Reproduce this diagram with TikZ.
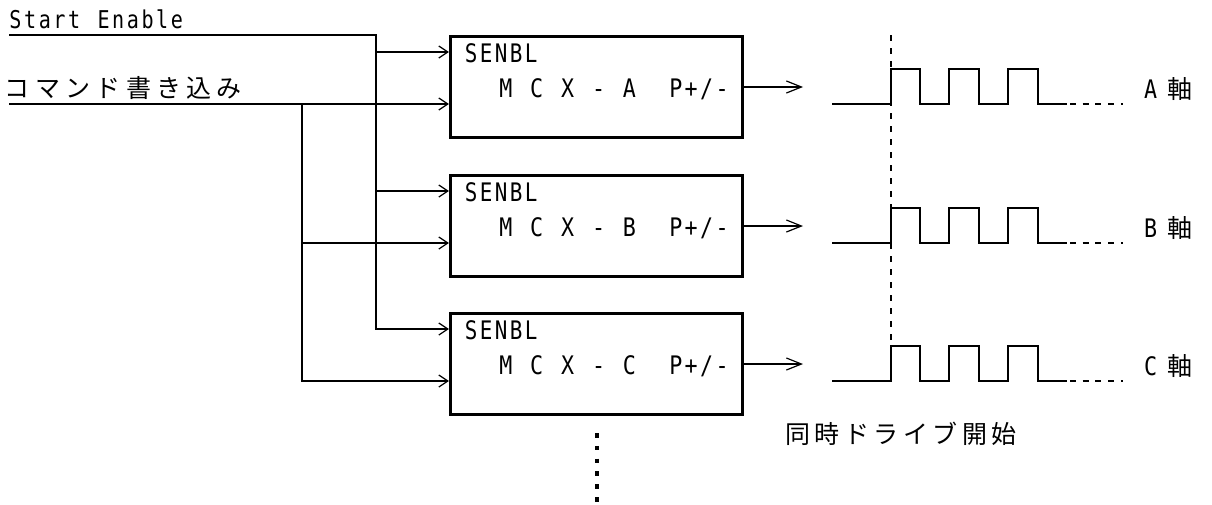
\documentclass[tikz,border=0pt]{standalone}
\usepackage{fontspec}
\usepackage{graphicx}
\usetikzlibrary{arrows.meta,calc}
\newfontfamily\jpfont{Noto Sans CJK JP}
\newfontfamily\latinfont{DejaVu Sans Mono}
% set a string in fixed-width cells, one glyph centred (and optionally narrowed) per cell
\newlength\cellw
\def\cellsx{1}
\newcommand\cellrow[3][1]{\setlength\cellw{#2}\def\cellsx{#1}\cellrowstep#3\relax}
\def\cellrowstep#1{\ifx\relax#1\else\makebox[\cellw][c]{\scalebox{\cellsx}[1]{#1}}\expandafter\cellrowstep\fi}
\begin{document}
\begin{tikzpicture}[x=1pt,y=-1pt,
  wire/.style={line width=1.2pt},
  inarrow/.style={wire,-{Straight Barb[length=9pt,width=12pt,line width=1.2pt]}},
  outarrow/.style={wire,-{Straight Barb[length=15pt,width=12pt,line width=1.2pt]}},
  unit/.style={draw,line width=3.2pt,minimum width=292pt,minimum height=101pt,inner sep=0pt},
  wave/.style={line width=2.8pt,line join=miter},
  syncline/.style={line width=1.2pt,dash pattern=on 6pt off 7pt},
  axisdash/.style={line width=1.2pt,dash pattern=on 6pt off 6.7pt},
  lbl/.style={inner sep=0pt,anchor=base west},
  lat/.style={font=\latinfont\fontsize{25.5pt}{30pt}\selectfont},
  jp/.style={font=\jpfont\fontsize{25pt}{30pt}\selectfont},
]
\useasboundingbox (0,0) rectangle (1212,504);

% input signal labels
\node[lbl,lat,font=\latinfont\fontsize{24.5pt}{30pt}\selectfont] (seLabel) at (8,28) {\cellrow[0.82]{14.67pt}{Start~Enable}};
\node[lbl,jp] (cmdLabel) at (2,97) {\cellrow{30.3pt}{コマンド書き込み}};

% start line through the rising edges
\coordinate (syncTop) at (891,35);
\coordinate (syncBot) at (891,346);
\draw[syncline] (syncTop) -- (syncBot);

% one controller chip per axis, with its pulse output
\foreach \u/\y/\low in {A/87/104,B/226/243,C/364/381} {
  \node[unit] (box\u) at (596.5,\y) {};
  \node[lbl,lat] (senbl\u) at ($(box\u.west)+(14.5,-25)$) {\cellrow[0.82]{15pt}{SENBL}};
  \node[lbl,lat] (name\u) at ($(box\u.west)+(49,10)$) {\cellrow[0.85]{15.45pt}{M~C~X~-~\u~~P+/-}};
  \coordinate (in1\u) at ($(box\u.west)+(0,-35)$);
  \coordinate (in2\u) at ($(box\u.west)+(0,17)$);
  \coordinate (out\u) at (803,\y);
  \draw[outarrow] (box\u.east) -- (out\u);
  \coordinate (wave\u) at (832,\low);
  \draw[wave] (wave\u) -- ++(59,0) -- ++(0,-35) -- ++(29,0) -- ++(0,35)
    -- ++(29,0) -- ++(0,-35) -- ++(30,0) -- ++(0,35)
    -- ++(29,0) -- ++(0,-35) -- ++(30,0) -- ++(0,35) -- ++(29,0) coordinate (end\u);
  \coordinate (tail\u) at (1123,\low);
  \draw[axisdash] ($(end\u)+(3,0)$) -- (tail\u);
  \node[lbl] (axis\u) at (1144,\low-6) {{\latinfont\fontsize{25.5pt}{30pt}\selectfont\scalebox{0.85}[1]{\u}}\hspace{10pt}{\jpfont\fontsize{25pt}{30pt}\selectfont 軸}};
}

% Start Enable bus
\coordinate (seIn) at (9,35);
\coordinate (seBus) at (376,35);
\draw[inarrow] (seIn) -- (seBus) |- (in1C);
\draw[inarrow] (seBus |- in1A) -- (in1A);
\draw[inarrow] (seBus |- in1B) -- (in1B);

% command write bus
\coordinate (cmdIn) at (9,104);
\coordinate (cmdBus) at (302,104);
\draw[inarrow] (cmdIn) -- (in2A);
\draw[inarrow] (cmdBus) |- (in2C);
\draw[inarrow] (cmdBus |- in2B) -- (in2B);

% further chips follow
\coordinate (dotTop) at (597,433);
\coordinate (dotBot) at (597,504);
\draw[line width=4.5pt,dash pattern=on 4.5pt off 8.3pt] (dotTop) -- (dotBot);

\node[lbl,jp] (syncLabel) at (783,443) {\cellrow{29.5pt}{同時ドライブ開始}};
\end{tikzpicture}
\end{document}
